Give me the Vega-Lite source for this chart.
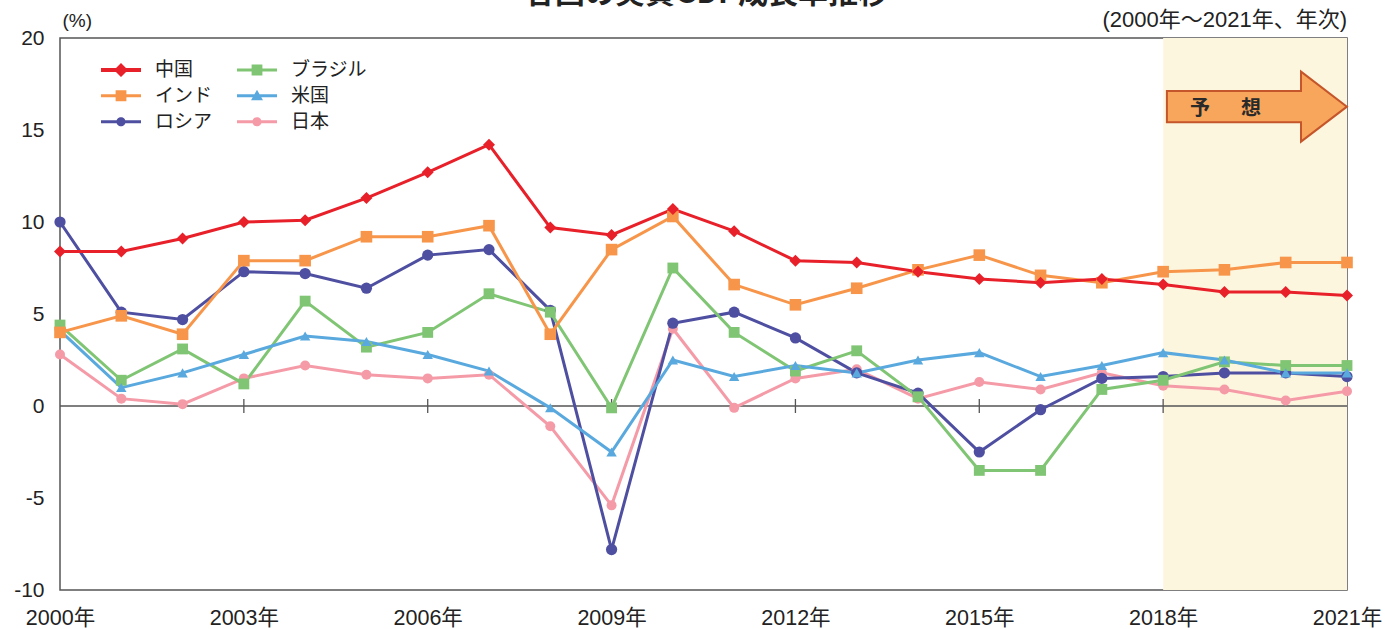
{
  "$schema": "https://vega.github.io/schema/vega-lite/v6.json",
  "width": 1287,
  "height": 552,
  "autosize": {"type": "none"},
  "padding": {"left": 60, "top": 38, "right": 38, "bottom": 39},
  "background": "white",
  "config": {
    "view": {"stroke": "#555", "strokeWidth": 1.5},
    "font": "Liberation Sans, 'Noto Sans CJK JP'"
  },
  "data": {
    "values": [
      {"country": "日本", "year": 2000, "value": 2.8}, {"country": "日本", "year": 2001, "value": 0.4}, {"country": "日本", "year": 2002, "value": 0.1}, {"country": "日本", "year": 2003, "value": 1.5}, {"country": "日本", "year": 2004, "value": 2.2}, {"country": "日本", "year": 2005, "value": 1.7}, {"country": "日本", "year": 2006, "value": 1.5}, {"country": "日本", "year": 2007, "value": 1.7}, {"country": "日本", "year": 2008, "value": -1.1}, {"country": "日本", "year": 2009, "value": -5.4}, {"country": "日本", "year": 2010, "value": 4.2}, {"country": "日本", "year": 2011, "value": -0.1}, {"country": "日本", "year": 2012, "value": 1.5}, {"country": "日本", "year": 2013, "value": 2.0}, {"country": "日本", "year": 2014, "value": 0.4}, {"country": "日本", "year": 2015, "value": 1.3}, {"country": "日本", "year": 2016, "value": 0.9}, {"country": "日本", "year": 2017, "value": 1.8}, {"country": "日本", "year": 2018, "value": 1.1}, {"country": "日本", "year": 2019, "value": 0.9}, {"country": "日本", "year": 2020, "value": 0.3}, {"country": "日本", "year": 2021, "value": 0.8},
      {"country": "ロシア", "year": 2000, "value": 10.0}, {"country": "ロシア", "year": 2001, "value": 5.1}, {"country": "ロシア", "year": 2002, "value": 4.7}, {"country": "ロシア", "year": 2003, "value": 7.3}, {"country": "ロシア", "year": 2004, "value": 7.2}, {"country": "ロシア", "year": 2005, "value": 6.4}, {"country": "ロシア", "year": 2006, "value": 8.2}, {"country": "ロシア", "year": 2007, "value": 8.5}, {"country": "ロシア", "year": 2008, "value": 5.2}, {"country": "ロシア", "year": 2009, "value": -7.8}, {"country": "ロシア", "year": 2010, "value": 4.5}, {"country": "ロシア", "year": 2011, "value": 5.1}, {"country": "ロシア", "year": 2012, "value": 3.7}, {"country": "ロシア", "year": 2013, "value": 1.8}, {"country": "ロシア", "year": 2014, "value": 0.7}, {"country": "ロシア", "year": 2015, "value": -2.5}, {"country": "ロシア", "year": 2016, "value": -0.2}, {"country": "ロシア", "year": 2017, "value": 1.5}, {"country": "ロシア", "year": 2018, "value": 1.6}, {"country": "ロシア", "year": 2019, "value": 1.8}, {"country": "ロシア", "year": 2020, "value": 1.8}, {"country": "ロシア", "year": 2021, "value": 1.6},
      {"country": "ブラジル", "year": 2000, "value": 4.4}, {"country": "ブラジル", "year": 2001, "value": 1.4}, {"country": "ブラジル", "year": 2002, "value": 3.1}, {"country": "ブラジル", "year": 2003, "value": 1.2}, {"country": "ブラジル", "year": 2004, "value": 5.7}, {"country": "ブラジル", "year": 2005, "value": 3.2}, {"country": "ブラジル", "year": 2006, "value": 4.0}, {"country": "ブラジル", "year": 2007, "value": 6.1}, {"country": "ブラジル", "year": 2008, "value": 5.1}, {"country": "ブラジル", "year": 2009, "value": -0.1}, {"country": "ブラジル", "year": 2010, "value": 7.5}, {"country": "ブラジル", "year": 2011, "value": 4.0}, {"country": "ブラジル", "year": 2012, "value": 1.9}, {"country": "ブラジル", "year": 2013, "value": 3.0}, {"country": "ブラジル", "year": 2014, "value": 0.5}, {"country": "ブラジル", "year": 2015, "value": -3.5}, {"country": "ブラジル", "year": 2016, "value": -3.5}, {"country": "ブラジル", "year": 2017, "value": 0.9}, {"country": "ブラジル", "year": 2018, "value": 1.4}, {"country": "ブラジル", "year": 2019, "value": 2.4}, {"country": "ブラジル", "year": 2020, "value": 2.2}, {"country": "ブラジル", "year": 2021, "value": 2.2},
      {"country": "米国", "year": 2000, "value": 4.1}, {"country": "米国", "year": 2001, "value": 1.0}, {"country": "米国", "year": 2002, "value": 1.8}, {"country": "米国", "year": 2003, "value": 2.8}, {"country": "米国", "year": 2004, "value": 3.8}, {"country": "米国", "year": 2005, "value": 3.5}, {"country": "米国", "year": 2006, "value": 2.8}, {"country": "米国", "year": 2007, "value": 1.9}, {"country": "米国", "year": 2008, "value": -0.1}, {"country": "米国", "year": 2009, "value": -2.5}, {"country": "米国", "year": 2010, "value": 2.5}, {"country": "米国", "year": 2011, "value": 1.6}, {"country": "米国", "year": 2012, "value": 2.2}, {"country": "米国", "year": 2013, "value": 1.8}, {"country": "米国", "year": 2014, "value": 2.5}, {"country": "米国", "year": 2015, "value": 2.9}, {"country": "米国", "year": 2016, "value": 1.6}, {"country": "米国", "year": 2017, "value": 2.2}, {"country": "米国", "year": 2018, "value": 2.9}, {"country": "米国", "year": 2019, "value": 2.5}, {"country": "米国", "year": 2020, "value": 1.8}, {"country": "米国", "year": 2021, "value": 1.8},
      {"country": "インド", "year": 2000, "value": 4.0}, {"country": "インド", "year": 2001, "value": 4.9}, {"country": "インド", "year": 2002, "value": 3.9}, {"country": "インド", "year": 2003, "value": 7.9}, {"country": "インド", "year": 2004, "value": 7.9}, {"country": "インド", "year": 2005, "value": 9.2}, {"country": "インド", "year": 2006, "value": 9.2}, {"country": "インド", "year": 2007, "value": 9.8}, {"country": "インド", "year": 2008, "value": 3.9}, {"country": "インド", "year": 2009, "value": 8.5}, {"country": "インド", "year": 2010, "value": 10.3}, {"country": "インド", "year": 2011, "value": 6.6}, {"country": "インド", "year": 2012, "value": 5.5}, {"country": "インド", "year": 2013, "value": 6.4}, {"country": "インド", "year": 2014, "value": 7.4}, {"country": "インド", "year": 2015, "value": 8.2}, {"country": "インド", "year": 2016, "value": 7.1}, {"country": "インド", "year": 2017, "value": 6.7}, {"country": "インド", "year": 2018, "value": 7.3}, {"country": "インド", "year": 2019, "value": 7.4}, {"country": "インド", "year": 2020, "value": 7.8}, {"country": "インド", "year": 2021, "value": 7.8},
      {"country": "中国", "year": 2000, "value": 8.4}, {"country": "中国", "year": 2001, "value": 8.4}, {"country": "中国", "year": 2002, "value": 9.1}, {"country": "中国", "year": 2003, "value": 10.0}, {"country": "中国", "year": 2004, "value": 10.1}, {"country": "中国", "year": 2005, "value": 11.3}, {"country": "中国", "year": 2006, "value": 12.7}, {"country": "中国", "year": 2007, "value": 14.2}, {"country": "中国", "year": 2008, "value": 9.7}, {"country": "中国", "year": 2009, "value": 9.3}, {"country": "中国", "year": 2010, "value": 10.7}, {"country": "中国", "year": 2011, "value": 9.5}, {"country": "中国", "year": 2012, "value": 7.9}, {"country": "中国", "year": 2013, "value": 7.8}, {"country": "中国", "year": 2014, "value": 7.3}, {"country": "中国", "year": 2015, "value": 6.9}, {"country": "中国", "year": 2016, "value": 6.7}, {"country": "中国", "year": 2017, "value": 6.9}, {"country": "中国", "year": 2018, "value": 6.6}, {"country": "中国", "year": 2019, "value": 6.2}, {"country": "中国", "year": 2020, "value": 6.2}, {"country": "中国", "year": 2021, "value": 6.0}
    ]
  },
  "layer": [
    {
      "data": {"values": [{}]},
      "mark": {"type": "rect", "color": "#FDF6DF", "opacity": 1},
      "encoding": {
        "x": {"datum": 2018, "type": "quantitative"},
        "x2": {"datum": 2021}
      }
    },
    {
      "data": {"values": [{}]},
      "mark": {"type": "rule", "color": "#555", "strokeWidth": 1.5},
      "encoding": {"y": {"datum": 0, "type": "quantitative"}}
    },
    {
      "transform": [
        {"filter": {"and": [{"field": "country", "equal": "中国"}, {"field": "year", "oneOf": [2003, 2006, 2009, 2012, 2015, 2018]}]}}
      ],
      "mark": {"type": "tick", "orient": "vertical", "size": 14, "thickness": 1.3, "color": "#555", "opacity": 1},
      "encoding": {
        "x": {"field": "year", "type": "quantitative"},
        "y": {"datum": 0, "type": "quantitative"}
      }
    },
    {
      "mark": {"type": "line"},
      "encoding": {
        "x": {
          "field": "year", "type": "quantitative",
          "scale": {"domain": [2000, 2021], "nice": false, "zero": false},
          "axis": {
            "values": [2000, 2003, 2006, 2009, 2012, 2015, 2018, 2021],
            "labelExpr": "datum.value + '年'",
            "title": null, "grid": false, "ticks": false, "domain": false,
            "labelPadding": 17, "labelFontSize": 21.5, "labelColor": "#222", "labelFlush": false,
            "labelFont": "Liberation Sans, 'Noto Sans CJK JP'"
          }
        },
        "y": {
          "field": "value", "type": "quantitative",
          "scale": {"domain": [-10, 20], "nice": false},
          "axis": {
            "values": [-10, -5, 0, 5, 10, 15, 20],
            "labelExpr": "datum.value + ''",
            "title": "(%)", "titleAngle": 0, "titleAlign": "left", "titleX": 2, "titleY": -18,
            "titleBaseline": "middle", "titleFontSize": 19, "titleFontWeight": "normal", "titleColor": "#222",
            "titleFont": "Liberation Sans",
            "grid": false, "ticks": false, "domain": false, "labelFlush": false,
            "labelPadding": 16, "labelFontSize": 21, "labelColor": "#222"
          }
        },
        "color": {
          "field": "country", "type": "nominal",
          "scale": {
            "domain": ["中国", "インド", "ロシア", "ブラジル", "米国", "日本"],
            "range": ["#E8202A", "#F7964A", "#4E4FA1", "#80C574", "#5AA9DE", "#F59BA8"]
          },
          "legend": {
            "orient": "none", "legendX": 41, "legendY": 19, "columns": 2, "title": null,
            "symbolSize": 1600, "clipHeight": 25.5, "rowPadding": 0, "columnPadding": 24,
            "labelFontSize": 19, "labelFont": "Noto Sans CJK JP", "labelColor": "#222", "labelOffset": 14,
            "symbolStrokeWidth": 0,
            "encode": {
              "symbols": {
                "update": {
                  "shape": {"signal": "datum.value === '中国' ? 'M-1,-0.1H1V0.1H-1Z M-0.35,0L0,-0.35L0.35,0L0,0.35Z' : (datum.value === 'インド' || datum.value === 'ブラジル') ? 'M-1,-0.075H1V0.075H-1Z M-0.27,-0.27H0.27V0.27H-0.27Z' : datum.value === '米国' ? 'M-1,-0.075H1V0.075H-1Z M0,-0.3L0.3,0.22H-0.3Z' : 'M-1,-0.075H1V0.075H-1Z M-0.23,0A0.23,0.23 0 1,1 0.23,0A0.23,0.23 0 1,1 -0.23,0Z'"},
                  "fill": {"scale": "color", "field": "value"},
                  "stroke": {"value": "transparent"},
                  "opacity": {"value": 1}
                }
              }
            }
          }
        },
        "strokeWidth": {
          "field": "country", "type": "nominal",
          "scale": {"domain": ["日本", "米国", "ブラジル", "ロシア", "インド", "中国"], "range": [3, 3, 3, 3, 3, 4.5]},
          "legend": null
        }
      }
    },
    {
      "mark": {"type": "point", "filled": true, "opacity": 1},
      "encoding": {
        "x": {"field": "year", "type": "quantitative"},
        "y": {"field": "value", "type": "quantitative"},
        "color": {"field": "country", "type": "nominal"},
        "shape": {
          "field": "country", "type": "nominal",
          "scale": {"domain": ["日本", "米国", "ブラジル", "ロシア", "インド", "中国"], "range": ["circle", "triangle-up", "square", "circle", "square", "diamond"]},
          "legend": null
        },
        "size": {
          "field": "country", "type": "nominal",
          "scale": {"domain": ["日本", "米国", "ブラジル", "ロシア", "インド", "中国"], "range": [100, 144, 121, 100, 121, 225]},
          "legend": null
        }
      }
    },
    {
      "data": {"values": [{}]},
      "mark": {
        "type": "point",
        "shape": "M-1,-0.174L0.49,-0.174L0.49,-0.389L1,0L0.49,0.389L0.49,0.174L-1,0.174Z",
        "size": 32400, "filled": true, "fill": "#F8A65B", "stroke": "#C5552A", "strokeWidth": 2, "opacity": 1
      },
      "encoding": {
        "x": {"datum": 2019.53, "type": "quantitative"},
        "y": {"datum": 16.27, "type": "quantitative"}
      }
    },
    {
      "data": {"values": [{}]},
      "mark": {"type": "text", "text": "予", "font": "Noto Sans CJK JP", "fontWeight": "bold", "fontSize": 20, "fill": "#2a2a2a", "align": "center", "baseline": "middle", "dx": -57},
      "encoding": {
        "x": {"datum": 2019.53, "type": "quantitative"},
        "y": {"datum": 16.15, "type": "quantitative"}
      }
    },
    {
      "data": {"values": [{}]},
      "mark": {"type": "text", "text": "想", "font": "Noto Sans CJK JP", "fontWeight": "bold", "fontSize": 20, "fill": "#2a2a2a", "align": "center", "baseline": "middle", "dx": -6},
      "encoding": {
        "x": {"datum": 2019.53, "type": "quantitative"},
        "y": {"datum": 16.15, "type": "quantitative"}
      }
    },
    {
      "data": {"values": [{}]},
      "mark": {"type": "text", "text": "(2000年〜2021年、年次)", "font": "Liberation Sans, 'Noto Sans CJK JP'", "fontWeight": "normal", "fontSize": 22, "fill": "#222", "align": "right", "baseline": "middle", "dy": -18},
      "encoding": {
        "x": {"datum": 2021, "type": "quantitative"},
        "y": {"datum": 20, "type": "quantitative"}
      }
    },
    {
      "data": {"values": [{}]},
      "mark": {"type": "text", "text": "各国の実質GDP成長率推移", "font": "Noto Sans CJK JP", "fontWeight": "bold", "fontSize": 30, "fill": "#222", "align": "center", "baseline": "alphabetic", "dx": 3, "dy": -35},
      "encoding": {
        "x": {"datum": 2010.5, "type": "quantitative"},
        "y": {"datum": 20, "type": "quantitative"}
      }
    }
  ]
}
